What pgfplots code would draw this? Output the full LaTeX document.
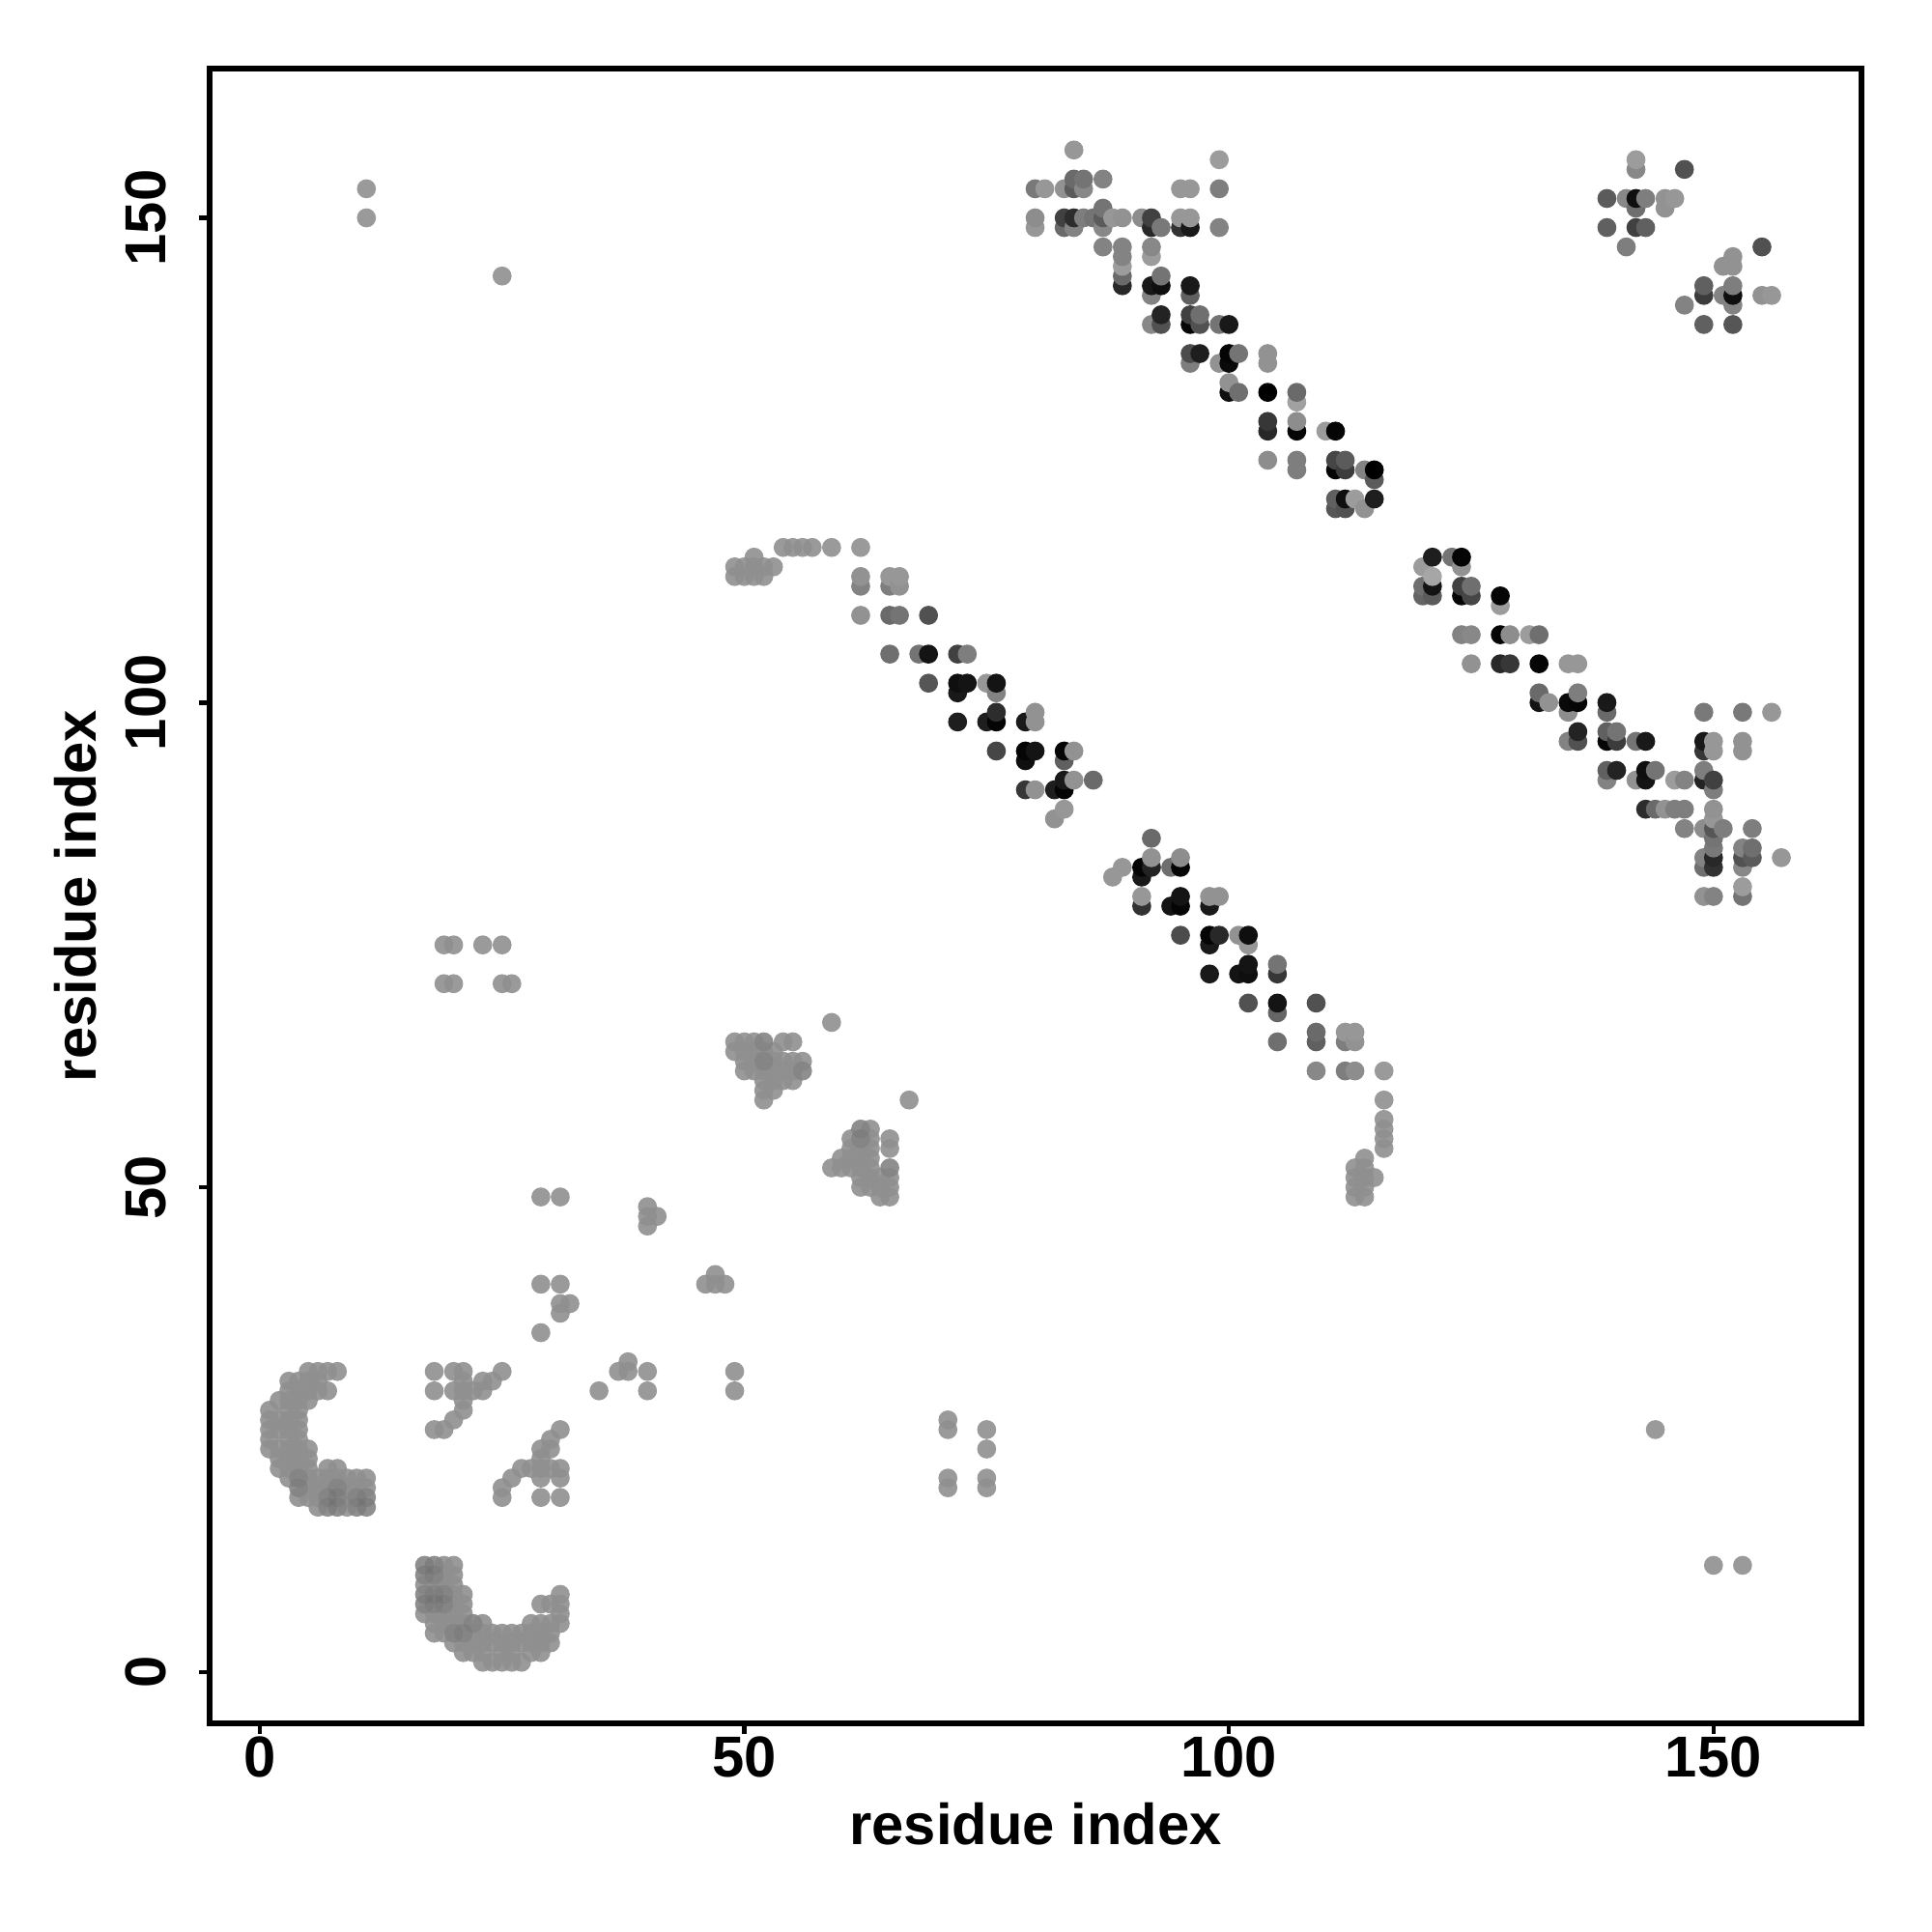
\documentclass[border=0pt]{standalone}
\usepackage{pgfplots}
\pgfplotsset{compat=1.18}
\usepackage{fontspec}
\setmainfont{Liberation Sans}
\pgfdeclareplotmark{dot}{\pgfpathcircle{\pgfpointorigin}{\pgfplotmarksize}\pgfusepathqfill}
\begin{document}
\begin{tikzpicture}[x=1cm,y=1cm]
\path[use as bounding box] (-2.17,-2.16) rectangle (17.83,17.84);
\begin{axis}[
  at={(0,0)},anchor=south west,
  scale only axis,width=17.1cm,height=17.13cm,
  xmin=-5.18,xmax=165.27,ymin=-5.3,ymax=165.4,
  axis line style={line width=1.7pt},
  tick style={line width=1.3pt,black},
  major tick length=3pt,
  tick align=outside,tick pos=left,
  xtick={0,50,100,150},ytick={0,50,100,150},
  /pgf/number format/assume math mode=true,
  tick label style={font=\fontsize{17}{20}\selectfont\bfseries},
  label style={font=\fontsize{17}{20}\selectfont\bfseries},
  xticklabel style={yshift=2.5pt},
  yticklabel style={rotate=90,anchor=south,yshift=6.3pt},
  xlabel={residue index},ylabel={residue index},
  xlabel style={at={(axis description cs:0.5,0)},anchor=base,yshift=-1.25cm},
  ylabel style={at={(axis description cs:0,0.5)},anchor=base,yshift=1.17cm},
  colormap={gr}{gray(0cm)=(0); gray(1cm)=(1)},
  point meta min=0,point meta max=255,
]
% light clusters
\addplot[only marks,mark=dot,mark size=2.8pt,mark options={fill=black!44,fill opacity=0.9}] coordinates {
(5,31)(6,31)(7,31)(8,31)(3,30)(4,30)(5,30)(6,30)(3,29)(4,29)(5,29)(6,29)(7,29)
(2,28)(3,28)(4,28)(5,28)(1,27)(3,27)(4,27)(1,26)(2,26)(3,26)(4,26)(1,25)(2,25)(3,25)(4,25)
(1,24)(3,24)(4,24)(1,23)(2,23)(3,23)(4,23)(5,23)(2,22)(3,22)(4,22)(5,22)
(2,21)(3,21)(4,21)(5,21)(7,21)(8,21)
(3,20)(4,20)(5,20)(6,20)(7,20)(8,20)(9,20)(10,20)(11,20)
(4,19)(5,19)(6,19)(7,19)(8,19)(9,19)(10,19)(11,19)
(4,18)(5,18)(6,18)(7,18)(8,18)(9,18)(10,18)(11,18)
(6,17)(7,17)(8,17)(9,17)(10,17)(11,17)
(17,11)(18,11)(19,11)(20,11)(17,10)(18,10)(19,10)(20,10)(17,9)(18,9)(19,9)(20,9)
(17,8)(18,8)(19,8)(20,8)(21,8)(17,7)(18,7)(19,7)(20,7)(21,7)(17,6)(18,6)(19,6)(20,6)(21,6)
(18,5)(19,5)(20,5)(21,5)(22,5)(23,5)
(18,4)(19,4)(20,4)(21,4)(22,4)(23,4)(24,4)(25,4)(26,4)(27,4)
(20,3)(21,3)(22,3)(23,3)(24,3)(25,3)(26,3)(27,3)(28,3)(29,3)(30,3)
(21,2)(22,2)(23,2)(25,2)(26,2)(28,2)(29,2)(23,1)(24,1)(25,1)(26,1)(27,1)
(28,5)(29,5)(30,5)(31,5)(28,4)(29,4)(30,4)(31,6)(29,7)(30,7)(31,7)(31,8)
(29,49)(31,49)(40,48)(40,47)(40,46)(41,47)(47,41)(46,40)(47,40)(48,40)
(29,40)(31,40)(31,38)(32,38)(31,37)(29,35)
(18,31)(20,31)(21,31)(25,31)(18,29)(20,29)(21,29)(22,29)(23,29)(21,30)(23,30)(24,30)
(21,28)(21,27)(20,26)(18,25)(19,25)
(35,29)(37,31)(38,32)(38,31)(40,31)(40,29)(49,31)(49,29)
(31,25)(30,24)(30,23)(29,23)(29,22)(27,21)(28,21)(29,21)(30,21)(31,21)
(26,20)(29,20)(31,20)(25,19)(25,18)(29,18)(31,18)
(11,153)(11,150)(25,144)(19,75)(20,75)(23,75)(25,75)(19,71)(20,71)(25,71)(26,71)
(144,25)(150,11)(153,11)(71,26)(71,25)(71,20)(71,19)(75,25)(75,23)(75,20)(75,19)
(59,67)(49,65)(50,65)(51,65)(52,65)(54,65)(55,65)(49,64)(50,64)(51,64)(52,64)(53,64)
(50,63)(51,63)(52,63)(53,63)(54,63)(55,63)(56,63)(50,62)(51,62)(52,62)(53,62)(54,62)(55,62)(56,62)
(52,61)(53,61)(54,61)(55,61)(52,60)(53,60)(52,59)
(67,59)(62,56)(63,56)(61,55)(62,55)(63,55)(65,55)(61,54)(62,54)(63,54)(65,54)
(60,53)(61,53)(62,53)(63,53)(59,52)(60,52)(61,52)(62,52)(63,52)(65,52)
(62,51)(63,51)(64,51)(65,51)(62,50)(63,50)(64,50)(65,50)(64,49)(65,49)
(49,114)(50,114)(51,114)(52,114)(53,114)(49,113)(50,113)(51,113)(52,113)(51,115)
(54,116)(55,116)(56,116)(57,116)(59,116)(62,116)
(116,62)(116,59)(116,57)(116,56)(116,55)(116,54)(114,53)
(113,52)(114,52)(113,51)(114,51)(115,51)(113,50)(114,50)(113,49)(114,49)
};
% darker parts of the light clusters
\addplot[only marks,mark=dot,mark size=2.8pt,mark options={fill=black!60,fill opacity=0.22}] coordinates {
(4,19)(4,20)(7,18)(8,18)(7,17)(8,17)(10,18)(11,18)(10,17)(11,17)(8,19)
(17,11)(18,11)(17,10)(18,10)(17,8)(18,8)(19,8)(17,7)(18,7)(19,7)(20,4)(21,4)(22,5)
(52,65)(52,63)(56,62)(65,52)(62,56)(62,55)
};
% the diagonal bands, drawn in order of x and then y
\addplot[scatter,only marks,mark=dot,mark size=2.8pt,scatter src=explicit,
  scatter/use mapped color={fill=mapped color}]
 table[meta=g,row sep=\\] {
x y g\\
62 109 145\\ 62 112 130\\ 62 113 145\\
65 105 110\\ 65 109 105\\ 65 112 125\\ 65 113 150\\
66 109 115\\ 66 112 145\\ 66 113 150\\
68 105 115\\
69 102 85\\ 69 105 20\\ 69 109 80\\
72 98 30\\ 72 101 25\\ 72 102 15\\ 72 105 65\\
73 102 20\\ 73 105 125\\
75 98 30\\ 75 102 150\\
76 95 70\\ 76 98 5\\ 76 99 45\\ 76 101 130\\ 76 102 20\\
79 91 55\\ 79 94 15\\ 79 95 5\\ 79 98 25\\
80 91 145\\ 80 95 20\\ 80 98 145\\ 80 99 145\\ 80 149 150\\ 80 150 140\\ 80 153 120\\
81 153 150\\
82 88 145\\ 82 91 30\\
83 89 150\\ 83 91 5\\ 83 92 25\\ 83 94 95\\ 83 95 5\\ 83 149 105\\ 83 150 65\\ 83 153 145\\
84 92 145\\ 84 95 145\\ 84 149 130\\ 84 150 45\\ 84 153 90\\ 84 154 105\\ 84 157 150\\
85 150 125\\ 85 153 135\\ 85 154 115\\
86 92 105\\ 86 150 115\\
87 147 130\\ 87 149 135\\ 87 150 90\\ 87 151 115\\ 87 154 130\\
88 82 150\\ 88 150 150\\
89 83 150\\ 89 143 40\\ 89 144 105\\ 89 145 155\\ 89 146 130\\ 89 147 130\\ 89 150 145\\
91 79 50\\ 91 80 150\\ 91 82 25\\ 91 83 5\\ 91 150 140\\
92 83 35\\ 92 84 145\\ 92 86 105\\ 92 139 135\\ 92 142 130\\ 92 143 25\\ 92 146 155\\ 92 147 135\\ 92 149 40\\ 92 150 65\\
93 139 80\\ 93 140 35\\ 93 143 15\\ 93 144 115\\ 93 149 120\\
94 79 20\\ 94 83 110\\
95 76 75\\ 95 79 5\\ 95 80 20\\ 95 83 5\\ 95 84 140\\ 95 149 50\\ 95 150 150\\ 95 153 150\\
96 135 125\\ 96 136 75\\ 96 139 5\\ 96 140 65\\ 96 142 95\\ 96 143 25\\ 96 149 25\\ 96 150 150\\ 96 153 150\\
97 136 30\\ 97 139 80\\ 97 140 110\\
98 72 25\\ 98 75 25\\ 98 76 5\\ 98 79 25\\ 98 80 145\\
99 76 40\\ 99 80 145\\ 99 135 145\\ 99 139 115\\ 99 149 130\\ 99 153 125\\ 99 156 155\\
100 132 15\\ 100 133 145\\ 100 135 10\\ 100 136 5\\ 100 139 25\\
101 72 20\\ 101 76 145\\ 101 132 110\\ 101 136 115\\
102 69 80\\ 102 72 15\\ 102 73 20\\ 102 75 150\\ 102 76 15\\
104 125 140\\ 104 128 40\\ 104 129 55\\ 104 132 0\\ 104 135 145\\ 104 136 145\\
105 65 110\\ 105 68 100\\ 105 69 20\\ 105 72 55\\ 105 73 115\\
107 124 125\\ 107 125 125\\ 107 128 5\\ 107 129 140\\ 107 131 160\\ 107 132 105\\
109 62 135\\ 109 65 95\\ 109 66 105\\ 109 69 80\\
110 128 155\\
111 120 85\\ 111 121 95\\ 111 124 5\\ 111 125 70\\ 111 128 5\\
112 62 125\\ 112 65 125\\ 112 66 150\\ 112 120 80\\ 112 121 15\\ 112 124 60\\ 112 125 90\\
113 62 140\\ 113 65 145\\ 113 66 150\\ 113 121 155\\
114 120 145\\ 114 124 130\\
115 121 30\\ 115 123 90\\ 115 124 0\\
120 111 100\\ 120 112 110\\ 120 114 155\\
121 111 90\\ 121 112 20\\ 121 113 165\\ 121 115 30\\
123 115 115\\
124 107 130\\ 124 111 5\\ 124 112 65\\ 124 114 145\\ 124 115 5\\
125 104 145\\ 125 107 135\\ 125 111 70\\ 125 112 110\\
128 104 40\\ 128 107 5\\ 128 110 155\\ 128 111 5\\
129 104 55\\ 129 107 140\\
131 107 155\\
132 100 20\\ 132 101 105\\ 132 104 5\\ 132 107 110\\
133 100 145\\
135 96 130\\ 135 99 140\\ 135 100 10\\ 135 104 150\\
136 96 80\\ 136 97 35\\ 136 100 5\\ 136 101 125\\ 136 104 150\\
139 92 130\\ 139 93 95\\ 139 96 5\\ 139 97 95\\ 139 99 105\\ 139 100 25\\ 139 149 95\\ 139 152 90\\
140 93 35\\ 140 96 60\\ 140 97 115\\
141 147 125\\ 141 152 135\\
142 92 145\\ 142 96 115\\ 142 149 65\\ 142 151 110\\ 142 152 15\\ 142 155 135\\ 142 156 155\\
143 89 45\\ 143 92 20\\ 143 93 15\\ 143 96 25\\ 143 149 95\\ 143 152 125\\
144 89 105\\ 144 93 115\\
145 89 145\\ 145 151 145\\ 145 152 145\\
146 89 125\\ 146 92 155\\ 146 152 150\\
147 87 130\\ 147 89 125\\ 147 92 130\\ 147 141 130\\ 147 155 80\\
149 80 145\\ 149 83 110\\ 149 84 130\\ 149 87 140\\ 149 92 35\\ 149 93 125\\ 149 95 55\\ 149 96 25\\ 149 99 120\\ 149 139 95\\ 149 142 60\\ 149 143 95\\
150 80 130\\ 150 83 50\\ 150 84 40\\ 150 85 120\\ 150 86 115\\ 150 87 85\\ 150 88 150\\ 150 89 145\\ 150 91 125\\ 150 92 65\\ 150 95 150\\ 150 96 150\\
151 87 125\\ 151 142 130\\ 151 145 145\\
152 139 85\\ 152 141 130\\ 152 142 15\\ 152 143 125\\ 152 145 145\\ 152 146 145\\
153 80 115\\ 153 81 155\\ 153 83 135\\ 153 84 80\\ 153 85 130\\ 153 95 145\\ 153 96 145\\ 153 99 120\\
154 84 90\\ 154 85 110\\ 154 87 125\\
155 142 145\\ 155 147 80\\
156 99 150\\ 156 142 150\\
157 84 150\\
};
\end{axis}
\end{tikzpicture}
\end{document}
